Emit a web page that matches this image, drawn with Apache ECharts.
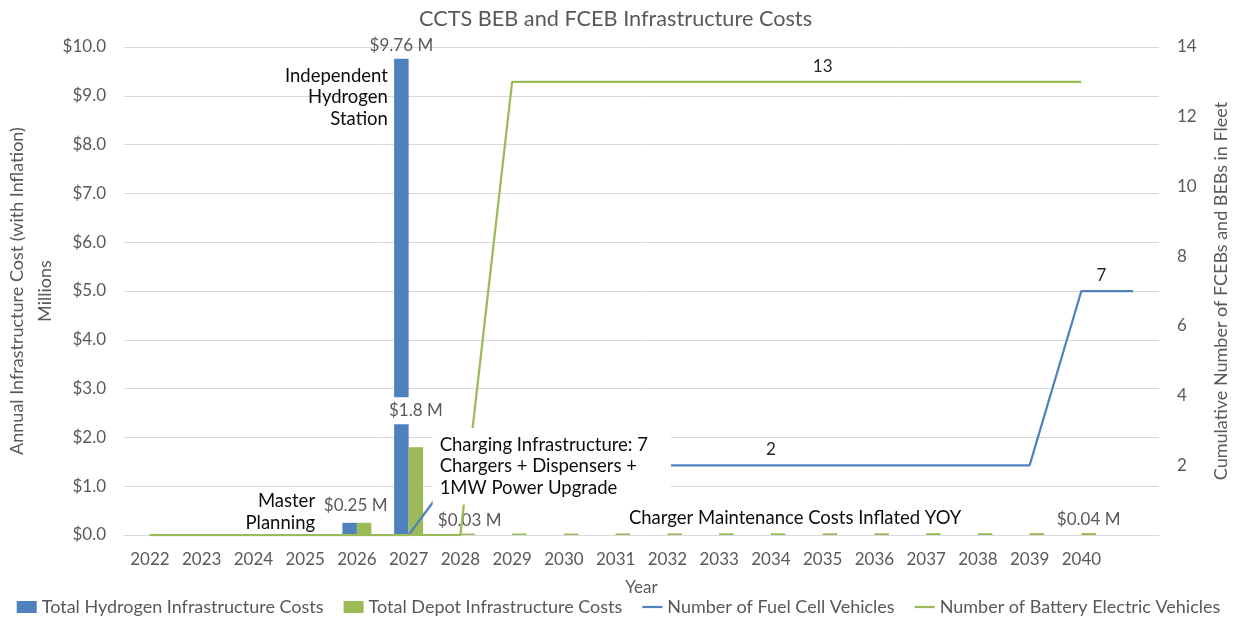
<!DOCTYPE html>
<html><head><meta charset="utf-8">
<script src="https://cdn.jsdelivr.net/npm/echarts@6/dist/echarts.min.js"></script>
<style>html,body{margin:0;padding:0;background:#fff}#c{width:1237px;height:618px}</style>
</head><body><div id="c"></div>
<script>
// ---- data ----
const years = ['2022','2023','2024','2025','2026','2027','2028','2029','2030','2031','2032','2033','2034','2035','2036','2037','2038','2039','2040',''];
const hydrogenCosts = [0,0,0,0,0.25,9.76,0,0,0,0,0,0,0,0,0,0,0,0,0,null];
const depotCosts = [0,0,0,0,0.25,1.8,0.030,0.031,0.031,0.032,0.033,0.034,0.035,0.035,0.036,0.037,0.038,0.039,0.040,null];
const fuelCellVehicles = [0,0,0,0,0,0,2,2,2,2,2,2,2,2,2,2,2,2,7,7];
const batteryElectricVehicles = [0,0,0,0,0,0,0,13,13,13,13,13,13,13,13,13,13,13,13,null];
const costTicks = [0,1,2,3,4,5,6,7,8,9,10];
const seriesNames = ['Total Hydrogen Infrastructure Costs','Total Depot Infrastructure Costs','Number of Fuel Cell Vehicles','Number of Battery Electric Vehicles'];
const annotationTexts = ['Independent\nHydrogen\nStation','Master\nPlanning','Charging Infrastructure: 7\nChargers + Dispensers +\n1MW Power Upgrade','Charger Maintenance Costs Inflated YOY'];

// ---- styles ----
const FONT = 'Lato';
const GRAY = '#595959';
const DARK = '#0d0d0d';
const BLUE = '#4F81BD';
const GREEN = '#9BBB59';
const LINE_ICON = 'path://M0,0H20V2.2H0Z';

const money = v => '$' + v + ' M';
function withLabels(values, labelMap) {
  return values.map((v, i) => labelMap[i] ? { value: v, label: Object.assign({ show: true }, labelMap[i]) } : v);
}
const dataLbl = { position: 'top', distance: 5, color: GRAY, fontSize: 17, fontFamily: FONT, formatter: p => money(p.value) };
const lineLbl = { position: 'top', distance: 7, color: '#262626', fontSize: 17, fontFamily: FONT };

const chart = echarts.init(document.getElementById('c'), null, { renderer: 'canvas' });
chart.setOption({
  animation: false,
  textStyle: { fontFamily: FONT },
  title: { text: 'CCTS BEB and FCEB Infrastructure Costs', left: 414, top: 3,
    textStyle: { fontSize: 21.7, fontWeight: 'normal', color: GRAY, fontFamily: FONT } },
  grid: { left: 124, right: 78, top: 47, bottom: 83, containLabel: false, outerBoundsMode: 'none' },
  legend: {
    left: 'center', top: 593, itemWidth: 20, itemHeight: 12, itemGap: 20,
    textStyle: { fontSize: 18, color: GRAY, fontFamily: FONT },
    data: [
      { name: seriesNames[0], icon: 'rect' },
      { name: seriesNames[1], icon: 'rect' },
      { name: seriesNames[2], icon: LINE_ICON, itemStyle: { color: BLUE } },
      { name: seriesNames[3], icon: LINE_ICON, itemStyle: { color: GREEN } }
    ]
  },
  xAxis: {
    type: 'category', data: years, boundaryGap: true,
    axisLine: { lineStyle: { color: '#d9d9d9', width: 1 } },
    axisTick: { show: false },
    axisLabel: { interval: 0, fontSize: 17, color: GRAY, margin: 16, fontFamily: FONT },
    name: 'Year', nameLocation: 'middle', nameGap: 44, nameMoveOverlap: false,
    nameTextStyle: { fontSize: 17, color: GRAY, fontFamily: FONT }
  },
  yAxis: [
    {
      type: 'value', min: costTicks[0], max: costTicks[costTicks.length - 1], interval: 1,
      axisLine: { show: false }, axisTick: { show: false },
      axisLabel: { fontSize: 17, color: GRAY, margin: 18, fontFamily: FONT, formatter: v => '$' + v.toFixed(1) },
      splitLine: { lineStyle: { color: '#d9d9d9', width: 1 } },
      name: 'Annual Infrastructure Cost (with Inflation)\nMillions', nameLocation: 'middle', nameRotate: 90, nameGap: 65,
      nameMoveOverlap: false,
      nameTextStyle: { fontSize: 18, color: GRAY, lineHeight: 28, fontFamily: FONT, align: 'center' }
    },
    {
      type: 'value', min: 0, max: 14, interval: 2, position: 'right',
      axisLine: { show: false }, axisTick: { show: false }, splitLine: { show: false },
      axisLabel: { fontSize: 17, color: GRAY, margin: 18, fontFamily: FONT, formatter: v => v === 0 ? '' : v },
      name: 'Cumulative Number of FCEBs and BEBs in Fleet', nameLocation: 'middle', nameRotate: 90, nameGap: 53,
      nameTextStyle: { fontSize: 18, color: GRAY, fontFamily: FONT }
    }
  ],
  series: [
    {
      name: seriesNames[0], type: 'bar', barWidth: 14.5, barGap: '0%', yAxisIndex: 0,
      itemStyle: { color: BLUE },
      data: withLabels(hydrogenCosts, {
        4: Object.assign({}, dataLbl, { offset: [6, -4] }),
        5: Object.assign({}, dataLbl, { offset: [0, 0] })
      }),
      z: 2
    },
    {
      name: seriesNames[1], type: 'bar', barWidth: 14.5, barGap: '0%', yAxisIndex: 0,
      itemStyle: { color: GREEN },
      data: withLabels(depotCosts, {
        5: Object.assign({}, dataLbl, { offset: [0, -18], backgroundColor: '#fff', padding: [5, 3] }),
        6: Object.assign({}, dataLbl, { offset: [2, 0] }),
        18: Object.assign({}, dataLbl, { offset: [0, 0] })
      }),
      markPoint: {
        symbol: 'circle', symbolSize: 0, z: 6,
        label: { show: true, color: DARK, fontSize: 18.5, fontFamily: FONT, lineHeight: 21.5 },
        data: [
          { coord: [years[5], 8.97], value: 0, label: { formatter: annotationTexts[0], align: 'right', verticalAlign: 'middle', offset: [-28, 0] } },
          { coord: [years[4], 0.47], value: 0, label: { formatter: annotationTexts[1], align: 'right', verticalAlign: 'middle', offset: [-49, 0] } },
          { coord: [years[6], 1.41], value: 0, label: { formatter: annotationTexts[2], align: 'left', verticalAlign: 'middle', offset: [-35, 0],
              backgroundColor: '#fff', padding: [6, 23, 6, 7] } },
          { coord: [years[12], 0.35], value: 0, label: { formatter: annotationTexts[3], align: 'center', verticalAlign: 'middle', offset: [17, 0] } }
        ]
      },
      z: 2
    },
    {
      name: seriesNames[2], type: 'line', yAxisIndex: 1, symbol: 'circle', symbolSize: 0, showSymbol: true,
      lineStyle: { color: BLUE, width: 2.25 }, itemStyle: { color: BLUE },
      data: withLabels(fuelCellVehicles, {
        12: Object.assign({}, lineLbl),
        18: Object.assign({}, lineLbl, { offset: [20, 0] })
      }),
      z: 3
    },
    {
      name: seriesNames[3], type: 'line', yAxisIndex: 1, symbol: 'circle', symbolSize: 0, showSymbol: true,
      lineStyle: { color: GREEN, width: 2.25 }, itemStyle: { color: GREEN },
      data: withLabels(batteryElectricVehicles, {
        13: Object.assign({}, lineLbl)
      }),
      z: 3
    }
  ]
});
</script>
</body></html>
